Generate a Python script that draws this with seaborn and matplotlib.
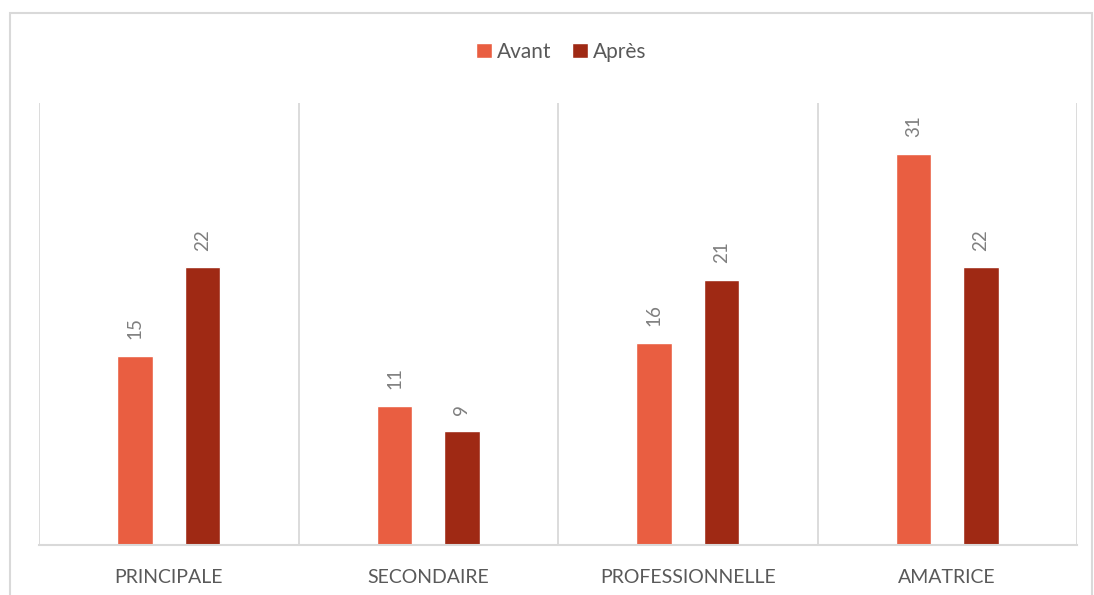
import matplotlib
matplotlib.use("Agg")
import matplotlib.pyplot as plt
from matplotlib.patches import Patch, Rectangle
import seaborn as sns
import pandas as pd

categories = ["PRINCIPALE", "SECONDAIRE", "PROFESSIONNELLE", "AMATRICE"]
series_names = ["Avant", "Après"]
avant = [15, 11, 16, 31]
apres = [22, 9, 21, 22]

colors = {"Avant": "#E95E41", "Après": "#9F2914"}
grid_color = "#D9D9D9"
text_color = "#595959"
label_color = "#7F7F7F"

sns.set_theme(style="white")
plt.rcParams["font.family"] = ["Lato", "DejaVu Sans"]

df = pd.DataFrame({
    "cat": categories * 2,
    "serie": [series_names[0]] * len(categories) + [series_names[1]] * len(categories),
    "val": avant + apres,
})

fig = plt.figure(figsize=(10.94, 5.95), dpi=100)
ax = fig.add_axes([39 / 1094, 1 - 545 / 595, (1077 - 39) / 1094, (545 - 103) / 595])

sns.barplot(data=df, x="cat", y="val", hue="serie", order=categories,
            hue_order=series_names, palette=colors, width=0.52, gap=0.47,
            saturation=1, ax=ax, legend=False, errorbar=None)

ax.set_ylim(0, 35)
ax.set_xlim(-0.5, len(categories) - 0.5)
ax.set_xlabel("")
ax.set_ylabel("")
ax.set_yticks([])
ax.tick_params(axis="x", length=0, pad=17, labelsize=14, labelcolor=text_color)
for s in ["top", "right", "left"]:
    ax.spines[s].set_visible(False)
ax.spines["bottom"].set_color(grid_color)
ax.spines["bottom"].set_linewidth(1.5)

for b in [i - 0.5 for i in range(len(categories) + 1)]:
    ax.axvline(b, color=grid_color, lw=1.3, zorder=0)

for cont in ax.containers:
    for bar in cont:
        h = bar.get_height()
        ax.annotate(f"{h:.0f}", (bar.get_x() + bar.get_width() / 2, h),
                    xytext=(0, 12), textcoords="offset points", rotation=90,
                    ha="center", va="bottom", fontsize=13.5, color=label_color)

handles = [Patch(facecolor=colors[n], label=n) for n in series_names]
fig.legend(handles=handles, loc="center", bbox_to_anchor=(0.513, 1 - 52 / 595),
           ncol=2, frameon=False, fontsize=15, labelcolor=text_color,
           handlelength=0.75, handleheight=0.75, handletextpad=0.25, columnspacing=1.0)

fig.patches.append(Rectangle((10 / 1094, -0.05), (1092 - 10) / 1094, 1.05 - 13 / 595,
                             transform=fig.transFigure, fill=False,
                             edgecolor=grid_color, lw=1.5))

fig.savefig("out.png", dpi=100)
